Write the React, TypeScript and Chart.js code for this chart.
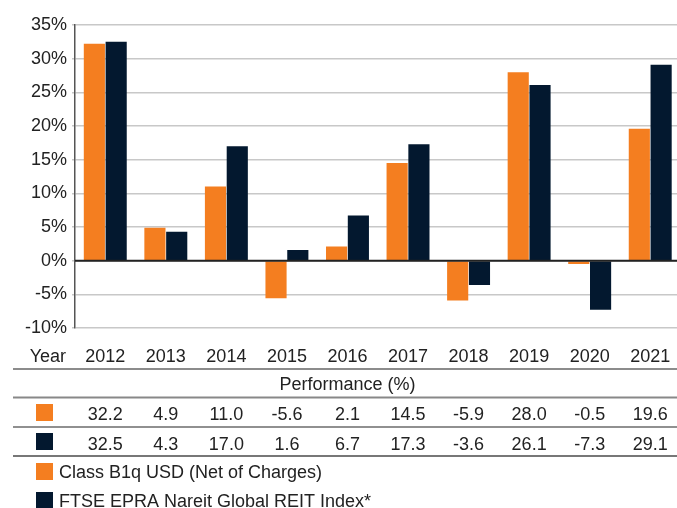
import React, { useEffect, useRef } from "react";
import { Chart, registerables } from "chart.js";

Chart.register(...registerables);

const years = ["2012", "2013", "2014", "2015", "2016", "2017", "2018", "2019", "2020", "2021"];
const classB1q = [32.2, 4.9, 11.0, -5.6, 2.1, 14.5, -5.9, 28.0, -0.5, 19.6];
const ftseIndex = [32.5, 4.3, 17.0, 1.6, 6.7, 17.3, -3.6, 26.1, -7.3, 29.1];
const seriesNames = ["Class B1q USD (Net of Charges)", "FTSE EPRA Nareit Global REIT Index*"];
const yTicks = { min: -10, max: 35, step: 5 };
const tableTitle = "Performance (%)";
const rowLabel = "Year";

const ORANGE = "#F47E20";
const NAVY = "#03182F";
const TEXT = "#222222";
const FONT = "18px 'Liberation Sans', Arial, Helvetica, sans-serif";

const W = 682;
const H = 508;

const zeroLinePlugin = {
  id: "zeroLine",
  afterDatasetsDraw(chart: any) {
    const y = chart.scales.y.getPixelForValue(0);
    const { left, right } = chart.chartArea;
    const ctx = chart.ctx;
    ctx.save();
    ctx.strokeStyle = "#222";
    ctx.lineWidth = 2;
    ctx.beginPath();
    ctx.moveTo(left, y);
    ctx.lineTo(right, y);
    ctx.stroke();
    ctx.restore();
  },
};

const tablePlugin = {
  id: "perfTable",
  afterDraw(chart: any) {
    const ctx = chart.ctx;
    const xs = chart.scales.x;
    const x0 = 13;
    const x1 = chart.width;
    ctx.save();
    ctx.font = FONT;
    ctx.fillStyle = TEXT;
    ctx.textBaseline = "alphabetic";

    const hline = (y: number, color: string, w: number) => {
      ctx.strokeStyle = color;
      ctx.lineWidth = w;
      ctx.beginPath();
      ctx.moveTo(x0, y);
      ctx.lineTo(x1, y);
      ctx.stroke();
    };

    // Year row
    ctx.textAlign = "right";
    ctx.fillText(rowLabel, 66, 362);
    ctx.textAlign = "center";
    years.forEach((yr, i) => ctx.fillText(yr, xs.getPixelForValue(i), 362));
    hline(369, "#666", 1.5);

    // title row
    ctx.fillStyle = TEXT;
    ctx.textAlign = "center";
    ctx.fillText(tableTitle, (x0 + x1) / 2, 390);
    hline(397.5, "#888", 2);

    // value rows
    const rows = [
      { vals: classB1q, color: ORANGE, top: 404, base: 420 },
      { vals: ftseIndex, color: NAVY, top: 433, base: 450 },
    ];
    rows.forEach((r) => {
      ctx.fillStyle = r.color;
      ctx.fillRect(36, r.top, 17, 17);
      ctx.fillStyle = TEXT;
      ctx.textAlign = "center";
      r.vals.forEach((v, i) => ctx.fillText(v.toFixed(1), xs.getPixelForValue(i), r.base));
    });
    hline(427, "#222", 1.2);
    hline(456, "#777", 2);

    // legend
    const legend = [
      { name: seriesNames[0], color: ORANGE, top: 463, base: 478 },
      { name: seriesNames[1], color: NAVY, top: 492, base: 507 },
    ];
    legend.forEach((l) => {
      ctx.fillStyle = l.color;
      ctx.fillRect(36, l.top, 17, 17);
      ctx.fillStyle = TEXT;
      ctx.textAlign = "left";
      ctx.fillText(l.name, 59, l.base);
    });
    ctx.restore();
  },
};

export default function App() {
  const ref = useRef<HTMLCanvasElement | null>(null);

  useEffect(() => {
    if (!ref.current) return;
    const chart = new Chart(ref.current, {
      type: "bar",
      data: {
        labels: years,
        datasets: [
          {
            label: seriesNames[0],
            data: classB1q,
            backgroundColor: ORANGE,
            borderWidth: 0,
            categoryPercentage: 0.72,
            barPercentage: 0.97,
          },
          {
            label: seriesNames[1],
            data: ftseIndex,
            backgroundColor: NAVY,
            borderWidth: 0,
            categoryPercentage: 0.72,
            barPercentage: 0.97,
          },
        ],
      },
      options: {
        responsive: false,
        animation: false,
        layout: { padding: { top: 25, bottom: 180, left: 0, right: 1.5 } },
        plugins: {
          legend: { display: false },
          tooltip: { enabled: false },
        },
        scales: {
          x: {
            display: false,
            offset: true,
          },
          y: {
            min: yTicks.min,
            max: yTicks.max,
            afterFit: (s: any) => {
              s.width = 75;
            },
            border: { display: true, color: "#555", width: 1.5 },
            grid: {
              color: "#c8c8c8",
              lineWidth: 1.5,
              tickLength: 3,
              drawTicks: true,
            },
            ticks: {
              stepSize: yTicks.step,
              padding: 5,
              color: TEXT,
              font: { size: 18, family: "'Liberation Sans', Arial, Helvetica, sans-serif" },
              callback: (v: any) => `${v}%`,
            },
          },
        },
      },
      plugins: [zeroLinePlugin, tablePlugin],
    });
    return () => chart.destroy();
  }, []);

  return (
    <div
      style={{
        position: "fixed",
        left: 0,
        top: 0,
        width: 677,
        height: 508,
        overflow: "hidden",
        background: "#fff",
      }}
    >
      <canvas ref={ref} width={W} height={H} style={{ width: W, height: H, display: "block" }} />
    </div>
  );
}
